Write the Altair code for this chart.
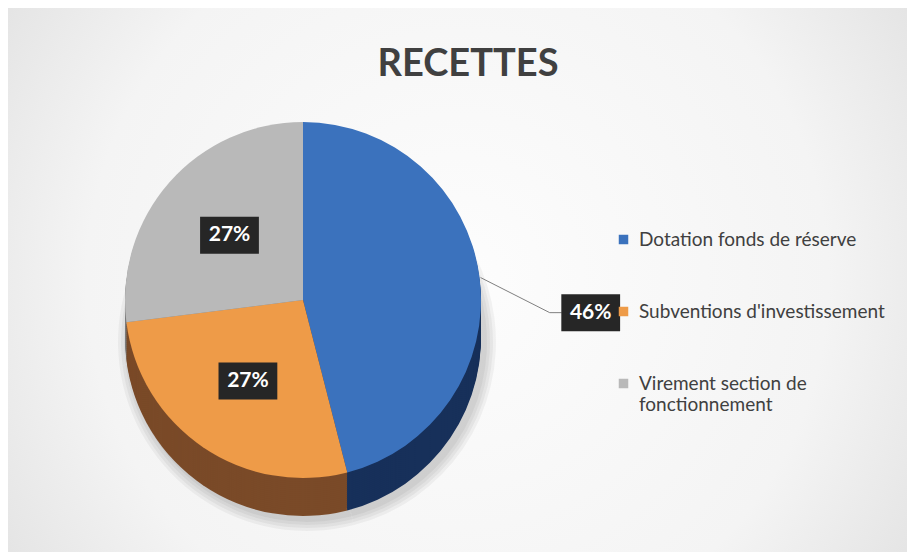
import altair as alt
import pandas as pd

# ---- data ----
categories = ["Dotation fonds de réserve",
              "Subventions d'investissement",
              "Virement section de fonctionnement"]
values = [46, 27, 27]
labels = ["46%", "27%", "27%"]
order = [0, 1, 2]
title_text = "RECETTES"

# ---- styles ----
top_colors = ["#3b72bd", "#ee9b48", "#b9b9b9"]
side_colors = ["#17305a", "#7a4a28", "#7c7c7c"]
FONT = "Lato"
TEXT_COLOR = "#404040"

# ---- layout (pixels) ----
W, H = 899, 544
CX, CY, R, DEPTH = 295, 292, 178, 38
R_IN, R_OUT, OUT_DY = 98, 290, 49

df = pd.DataFrame({"category": categories, "value": values,
                   "label": labels, "order": order})

side_expr = "[" + ",".join(f"'{c}'" for c in side_colors) + "][datum.order]"

base = (
    alt.Chart(df)
    .transform_joinaggregate(total="sum(value)")
    .transform_window(cum="sum(value)", sort=[alt.SortField("order")], frame=[None, 0])
    .transform_calculate(
        a0="(datum.cum - datum.value) / datum.total * 2 * PI",
        a1="datum.cum / datum.total * 2 * PI",
        mid="(datum.cum - datum.value / 2) / datum.total * 2 * PI",
        sc=side_expr,
    )
)

bg = alt.Chart(pd.DataFrame({"k": [0]})).mark_rect(
    fill=alt.Gradient(
        gradient="radial",
        stops=[alt.GradientStop(color="#fdfdfd", offset=0),
               alt.GradientStop(color="#f4f4f4", offset=0.55),
               alt.GradientStop(color="#d6d6d6", offset=1)],
        x1=0.5, y1=0.5, x2=0.5, y2=0.5, r1=0, r2=0.75,
    )
).encode(x=alt.value(0), x2=alt.value(W), y=alt.value(0), y2=alt.value(H))

title = alt.Chart(pd.DataFrame({"t": [title_text]})).mark_text(
    font=FONT, fontSize=38, fontWeight="bold", color=TEXT_COLOR,
    align="center", baseline="alphabetic",
).encode(text="t:N", x=alt.value(460), y=alt.value(68))

# soft shadow below the pie
shadow_layers = [
    base.mark_arc(radius=R + g, color="#000000", opacity=0.045).encode(
        theta=alt.Theta("a0:Q", scale=None), theta2="a1:Q",
        x=alt.value(CX + 4), y=alt.value(CY + DEPTH + 4),
    )
    for g in (2, 5, 8, 11)
]

side_layers = [
    base.mark_arc(radius=R).encode(
        theta=alt.Theta("a0:Q", scale=None),
        theta2="a1:Q",
        fill=alt.Color("sc:N", scale=None),
        x=alt.value(CX),
        y=alt.value(CY + d),
    )
    for d in range(DEPTH, 0, -2)
]

top = base.mark_arc(radius=R).encode(
    theta=alt.Theta("a0:Q", scale=None),
    theta2="a1:Q",
    color=alt.Color(
        "category:N",
        scale=alt.Scale(domain=categories, range=top_colors),
        legend=alt.Legend(
            title=None, orient="none", legendX=606, legendY=222,
            symbolType="square", symbolSize=90, symbolStrokeWidth=0,
            labelFont=FONT, labelFontSize=19, labelColor=TEXT_COLOR,
            rowPadding=52, labelOffset=6, labelLimit=400,
            labelExpr="length(datum.label) > 30 ? [substring(datum.label, 0, lastindexof(datum.label, ' ')), substring(datum.label, lastindexof(datum.label, ' ') + 1)] : datum.label",
        ),
    ),
    x=alt.value(CX),
    y=alt.value(CY),
)

inner = base.transform_filter("datum.value / datum.total < 0.4").transform_calculate(
    lx=f"{CX} + {R_IN} * sin(datum.mid)",
    ly=f"{CY} - {R_IN} * cos(datum.mid)",
)
outer = base.transform_filter("datum.value / datum.total >= 0.4").transform_calculate(
    lx=f"{CX} + {R_OUT} * sin(datum.mid)",
    ly=f"{CY} - {R_OUT} * cos(datum.mid) + {OUT_DY}",
    ex=f"{CX} + {R + 1} * sin(datum.mid)",
    ey=f"{CY} - {R + 1} * cos(datum.mid)",
    kx="datum.lx - 41",
    bx="datum.lx - 29",
)

BOX = "M-1.4,-0.88L1.4,-0.88L1.4,0.88L-1.4,0.88Z"

def boxes(src):
    return src.mark_point(shape=BOX, filled=True, size=42 ** 2, color="#262626",
                          opacity=1, strokeWidth=0).encode(
        x=alt.X("lx:Q", scale=None), y=alt.Y("ly:Q", scale=None))

def texts(src):
    return src.mark_text(font=FONT, fontWeight="bold", fontSize=21, color="white",
                         baseline="middle", align="center").encode(
        x=alt.X("lx:Q", scale=None), y=alt.Y("ly:Q", scale=None), text="label:N")

lead1 = outer.mark_rule(color="#7f7f7f", strokeWidth=1).encode(
    x=alt.X("ex:Q", scale=None), y=alt.Y("ey:Q", scale=None), x2="kx:Q", y2="ly:Q")
lead2 = outer.mark_rule(color="#7f7f7f", strokeWidth=1).encode(
    x=alt.X("kx:Q", scale=None), y=alt.Y("ly:Q", scale=None), x2="bx:Q")

chart = (
    alt.layer(bg, title, *shadow_layers, *side_layers, top, lead1, lead2,
              boxes(inner), boxes(outer), texts(inner), texts(outer))
    .properties(
        width=W, height=H,
        autosize=alt.AutoSizeParams(type="none"),
        padding=0,
        background="#e4e4e4",
    )
    .configure_view(stroke=None)
)

chart.save("out.html", embed_options={"renderer": "svg", "actions": False})
